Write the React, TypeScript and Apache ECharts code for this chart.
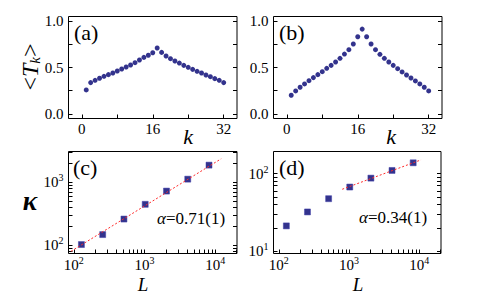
import React, { useEffect, useRef } from "react";
import * as echarts from "echarts";

const kValues = [1, 2, 3, 4, 5, 6, 7, 8, 9, 10, 11, 12, 13, 14, 15, 16, 17, 18, 19, 20, 21, 22, 23, 24, 25, 26, 27, 28, 29, 30, 31, 32];
const tkA = [0.258, 0.337, 0.362, 0.384, 0.405, 0.423, 0.441, 0.462, 0.484, 0.505, 0.527, 0.552, 0.581, 0.609, 0.632, 0.659, 0.71, 0.663, 0.624, 0.595, 0.57, 0.548, 0.523, 0.502, 0.48, 0.459, 0.441, 0.419, 0.401, 0.38, 0.362, 0.337];
const tkB = [0.201, 0.247, 0.287, 0.323, 0.358, 0.391, 0.423, 0.455, 0.491, 0.523, 0.559, 0.599, 0.645, 0.692, 0.753, 0.832, 0.914, 0.832, 0.753, 0.692, 0.642, 0.599, 0.559, 0.523, 0.487, 0.452, 0.419, 0.387, 0.355, 0.323, 0.287, 0.247];
const sizesL = [128, 256, 512, 1024, 2048, 4096, 8192];
const kappaC = [102.6, 147.6, 260, 445, 721, 1114, 1858];
const kappaD = [21.2, 32.1, 47.6, 67.3, 87.7, 110.2, 138.4];
const fitCL = [91, 12200];
const fitCK = [80, 2345];
const fitDL = [800, 10600];
const fitDK = [63, 151];

const kTickLabels = [0, 16, 32];
const kTicksAll = [0, 8, 16, 24, 32];
const tTickLabels = [0, 0.5, 1.0];
const tTicksAll = [0, 0.25, 0.5, 0.75, 1.0];
const xLogMajor = [100, 1000, 10000];
const xLogAll = [100, 200, 300, 400, 500, 600, 700, 800, 900, 1000, 2000, 3000, 4000, 5000, 6000, 7000, 8000, 9000, 10000, 20000];
const yLogMajorC = [100, 1000];
const yLogAllC = [80, 90, 100, 200, 300, 400, 500, 600, 700, 800, 900, 1000, 2000, 3000];
const yLogMajorD = [10, 100];
const yLogAllD = [10, 20, 30, 40, 50, 60, 70, 80, 90, 100];

const FONT = "'Liberation Serif', 'Times New Roman', serif";
const NAVY = "#000070";

const grids = [
  { left: 68.5, top: 16.5, width: 168.5, height: 102 },
  { left: 273.5, top: 16.5, width: 168.5, height: 102 },
  { left: 68.5, top: 151.5, width: 168.5, height: 102 },
  { left: 273.5, top: 151.5, width: 167.5, height: 102 },
];

const supRich = {
  b: { fontFamily: FONT, fontSize: 15, color: "#000" },
  s: { fontFamily: FONT, fontSize: 10, color: "#000", padding: [0, 0, 9, 0] },
};

function makeAxis(dim: "x" | "y", gridIndex: number, opts: any) {
  const { type, min, max, labels, ticks, formatter, position, showLabel, margin } = opts;
  return {
    type,
    gridIndex,
    min,
    max,
    position,
    logBase: 10,
    axisLine: { show: false, onZero: false },
    splitLine: { show: false },
    axisTick: { show: true, inside: true, length: 4, customValues: ticks, lineStyle: { color: "#000", width: 1 } },
    axisLabel: showLabel
      ? {
          show: true,
          customValues: labels,
          formatter,
          fontFamily: FONT,
          fontSize: 15,
          color: "#000",
          margin,
          rich: supRich,
        }
      : { show: false },
  };
}

const linFmtY = (v: number) => v.toFixed(1);
const linFmtX = (v: number) => String(Math.round(v));
const logFmt = (v: number) => `{b|10}{s|${Math.round(Math.log10(v))}}`;

export default function App() {
  const ref = useRef<HTMLDivElement>(null);
  useEffect(() => {
    if (!ref.current) return;
    const chart = echarts.init(ref.current, null, { renderer: "svg" });

    const xAxes: any[] = [];
    const yAxes: any[] = [];
    for (let g = 0; g < 2; g++) {
      xAxes.push(makeAxis("x", g, { type: "value", min: -3, max: 35, labels: kTickLabels, ticks: kTicksAll, formatter: linFmtX, position: "bottom", showLabel: true, margin: 3 }));
      yAxes.push(makeAxis("y", g, { type: "value", min: -0.05, max: 1.05, labels: tTickLabels, ticks: tTicksAll, formatter: linFmtY, position: "left", showLabel: true, margin: 5 }));
      yAxes.push(makeAxis("y", g, { type: "value", min: -0.05, max: 1.05, labels: tTickLabels, ticks: tTicksAll, formatter: linFmtY, position: "right", showLabel: false }));
    }
    const yRanges = [
      { min: 74, max: 3055, labels: yLogMajorC, ticks: yLogAllC },
      { min: 9.33, max: 193.6, labels: yLogMajorD, ticks: yLogAllD },
    ];
    for (let g = 2; g < 4; g++) {
      const yr = yRanges[g - 2];
      xAxes.push(makeAxis("x", g, { type: "log", min: 84, max: 20400, labels: xLogMajor, ticks: xLogAll, formatter: logFmt, position: "bottom", showLabel: true, margin: 2 }));
      yAxes.push(makeAxis("y", g, { type: "log", min: yr.min, max: yr.max, labels: yr.labels, ticks: yr.ticks, formatter: logFmt, position: "left", showLabel: true, margin: 5 }));
      yAxes.push(makeAxis("y", g, { type: "log", min: yr.min, max: yr.max, labels: yr.labels, ticks: yr.ticks, formatter: logFmt, position: "right", showLabel: false }));
    }

    const dotSeries = (g: number, vals: number[]) => ({
      type: "scatter",
      xAxisIndex: g,
      yAxisIndex: 2 * g,
      symbol: "circle",
      symbolSize: 5,
      itemStyle: { color: NAVY },
      data: kValues.map((k, i) => [k, vals[i]]),
      silent: true,
    });
    const sqSeries = (g: number, vals: number[]) => ({
      type: "scatter",
      xAxisIndex: g,
      yAxisIndex: 2 * g,
      symbol: "rect",
      symbolSize: 6,
      itemStyle: { color: NAVY, borderColor: "rgba(60,60,170,0.6)", borderWidth: 1 },
      data: sizesL.map((l, i) => [l, vals[i]]),
      silent: true,
    });
    const fitSeries = (g: number, ls: number[], ks: number[]) => ({
      type: "line",
      xAxisIndex: g,
      yAxisIndex: 2 * g,
      symbol: "none",
      lineStyle: { color: "#ff2a2a", width: 1, type: [2, 2] },
      data: ls.map((l, i) => [l, ks[i]]),
      silent: true,
      z: 5,
    });

    const txt = (x: number, y: number, text: string, extra: any = {}) => ({
      type: "text",
      x,
      y,
      style: { text, fontFamily: FONT, fill: "#000", ...extra },
    });

    chart.setOption({
      animation: false,
      grid: grids.map((g) => ({ ...g, show: true, borderColor: "#000", borderWidth: 1, backgroundColor: "transparent" })),
      xAxis: xAxes,
      yAxis: yAxes,
      series: [
        dotSeries(0, tkA),
        dotSeries(1, tkB),
        sqSeries(2, kappaC),
        fitSeries(2, fitCL, fitCK),
        sqSeries(3, kappaD),
        fitSeries(3, fitDL, fitDK),
      ],
      graphic: [
        txt(74, 32, "(a)", { fontSize: 22, verticalAlign: "middle" }),
        txt(279, 32, "(b)", { fontSize: 22, verticalAlign: "middle" }),
        txt(73, 167, "(c)", { fontSize: 22, verticalAlign: "middle" }),
        txt(279, 167, "(d)", { fontSize: 22, verticalAlign: "middle" }),
        txt(188, 136, "k", { fontSize: 22, fontStyle: "italic", align: "center", verticalAlign: "middle" }),
        txt(391, 136, "k", { fontSize: 22, fontStyle: "italic", align: "center", verticalAlign: "middle" }),
        txt(143, 284, "L", { fontSize: 19, fontStyle: "italic", align: "center", verticalAlign: "middle" }),
        txt(358, 284, "L", { fontSize: 19, fontStyle: "italic", align: "center", verticalAlign: "middle" }),
        txt(30, 201, "κ", { fontSize: 27, fontStyle: "italic", fontWeight: "bold", align: "center", verticalAlign: "middle" }),
        {
          type: "text",
          x: 30,
          y: 67,
          rotation: Math.PI / 2,
          style: {
            text: "{a|<}{t|T}{s|k}{a|>}",
            align: "center",
            verticalAlign: "middle",
            rich: {
              a: { fontFamily: FONT, fontSize: 24, fill: "#000" },
              t: { fontFamily: FONT, fontSize: 24, fontStyle: "italic", fill: "#000" },
              s: { fontFamily: FONT, fontSize: 15, fontStyle: "italic", fill: "#000", padding: [9, 0, 0, 0] },
            },
          },
        },
        {
          type: "text",
          x: 157,
          y: 218,
          style: {
            text: "{i|α}{n|=0.71(1)}",
            verticalAlign: "middle",
            rich: {
              i: { fontFamily: FONT, fontSize: 17, fontStyle: "italic", fill: "#000" },
              n: { fontFamily: FONT, fontSize: 17, fill: "#000" },
            },
          },
        },
        {
          type: "text",
          x: 359,
          y: 217,
          style: {
            text: "{i|α}{n|=0.34(1)}",
            verticalAlign: "middle",
            rich: {
              i: { fontFamily: FONT, fontSize: 17, fontStyle: "italic", fill: "#000" },
              n: { fontFamily: FONT, fontSize: 17, fill: "#000" },
            },
          },
        },
      ],
    });
    return () => chart.dispose();
  }, []);
  return <div ref={ref} style={{ width: 480, height: 294, position: "absolute", left: 0, top: 0 }} />;
}
